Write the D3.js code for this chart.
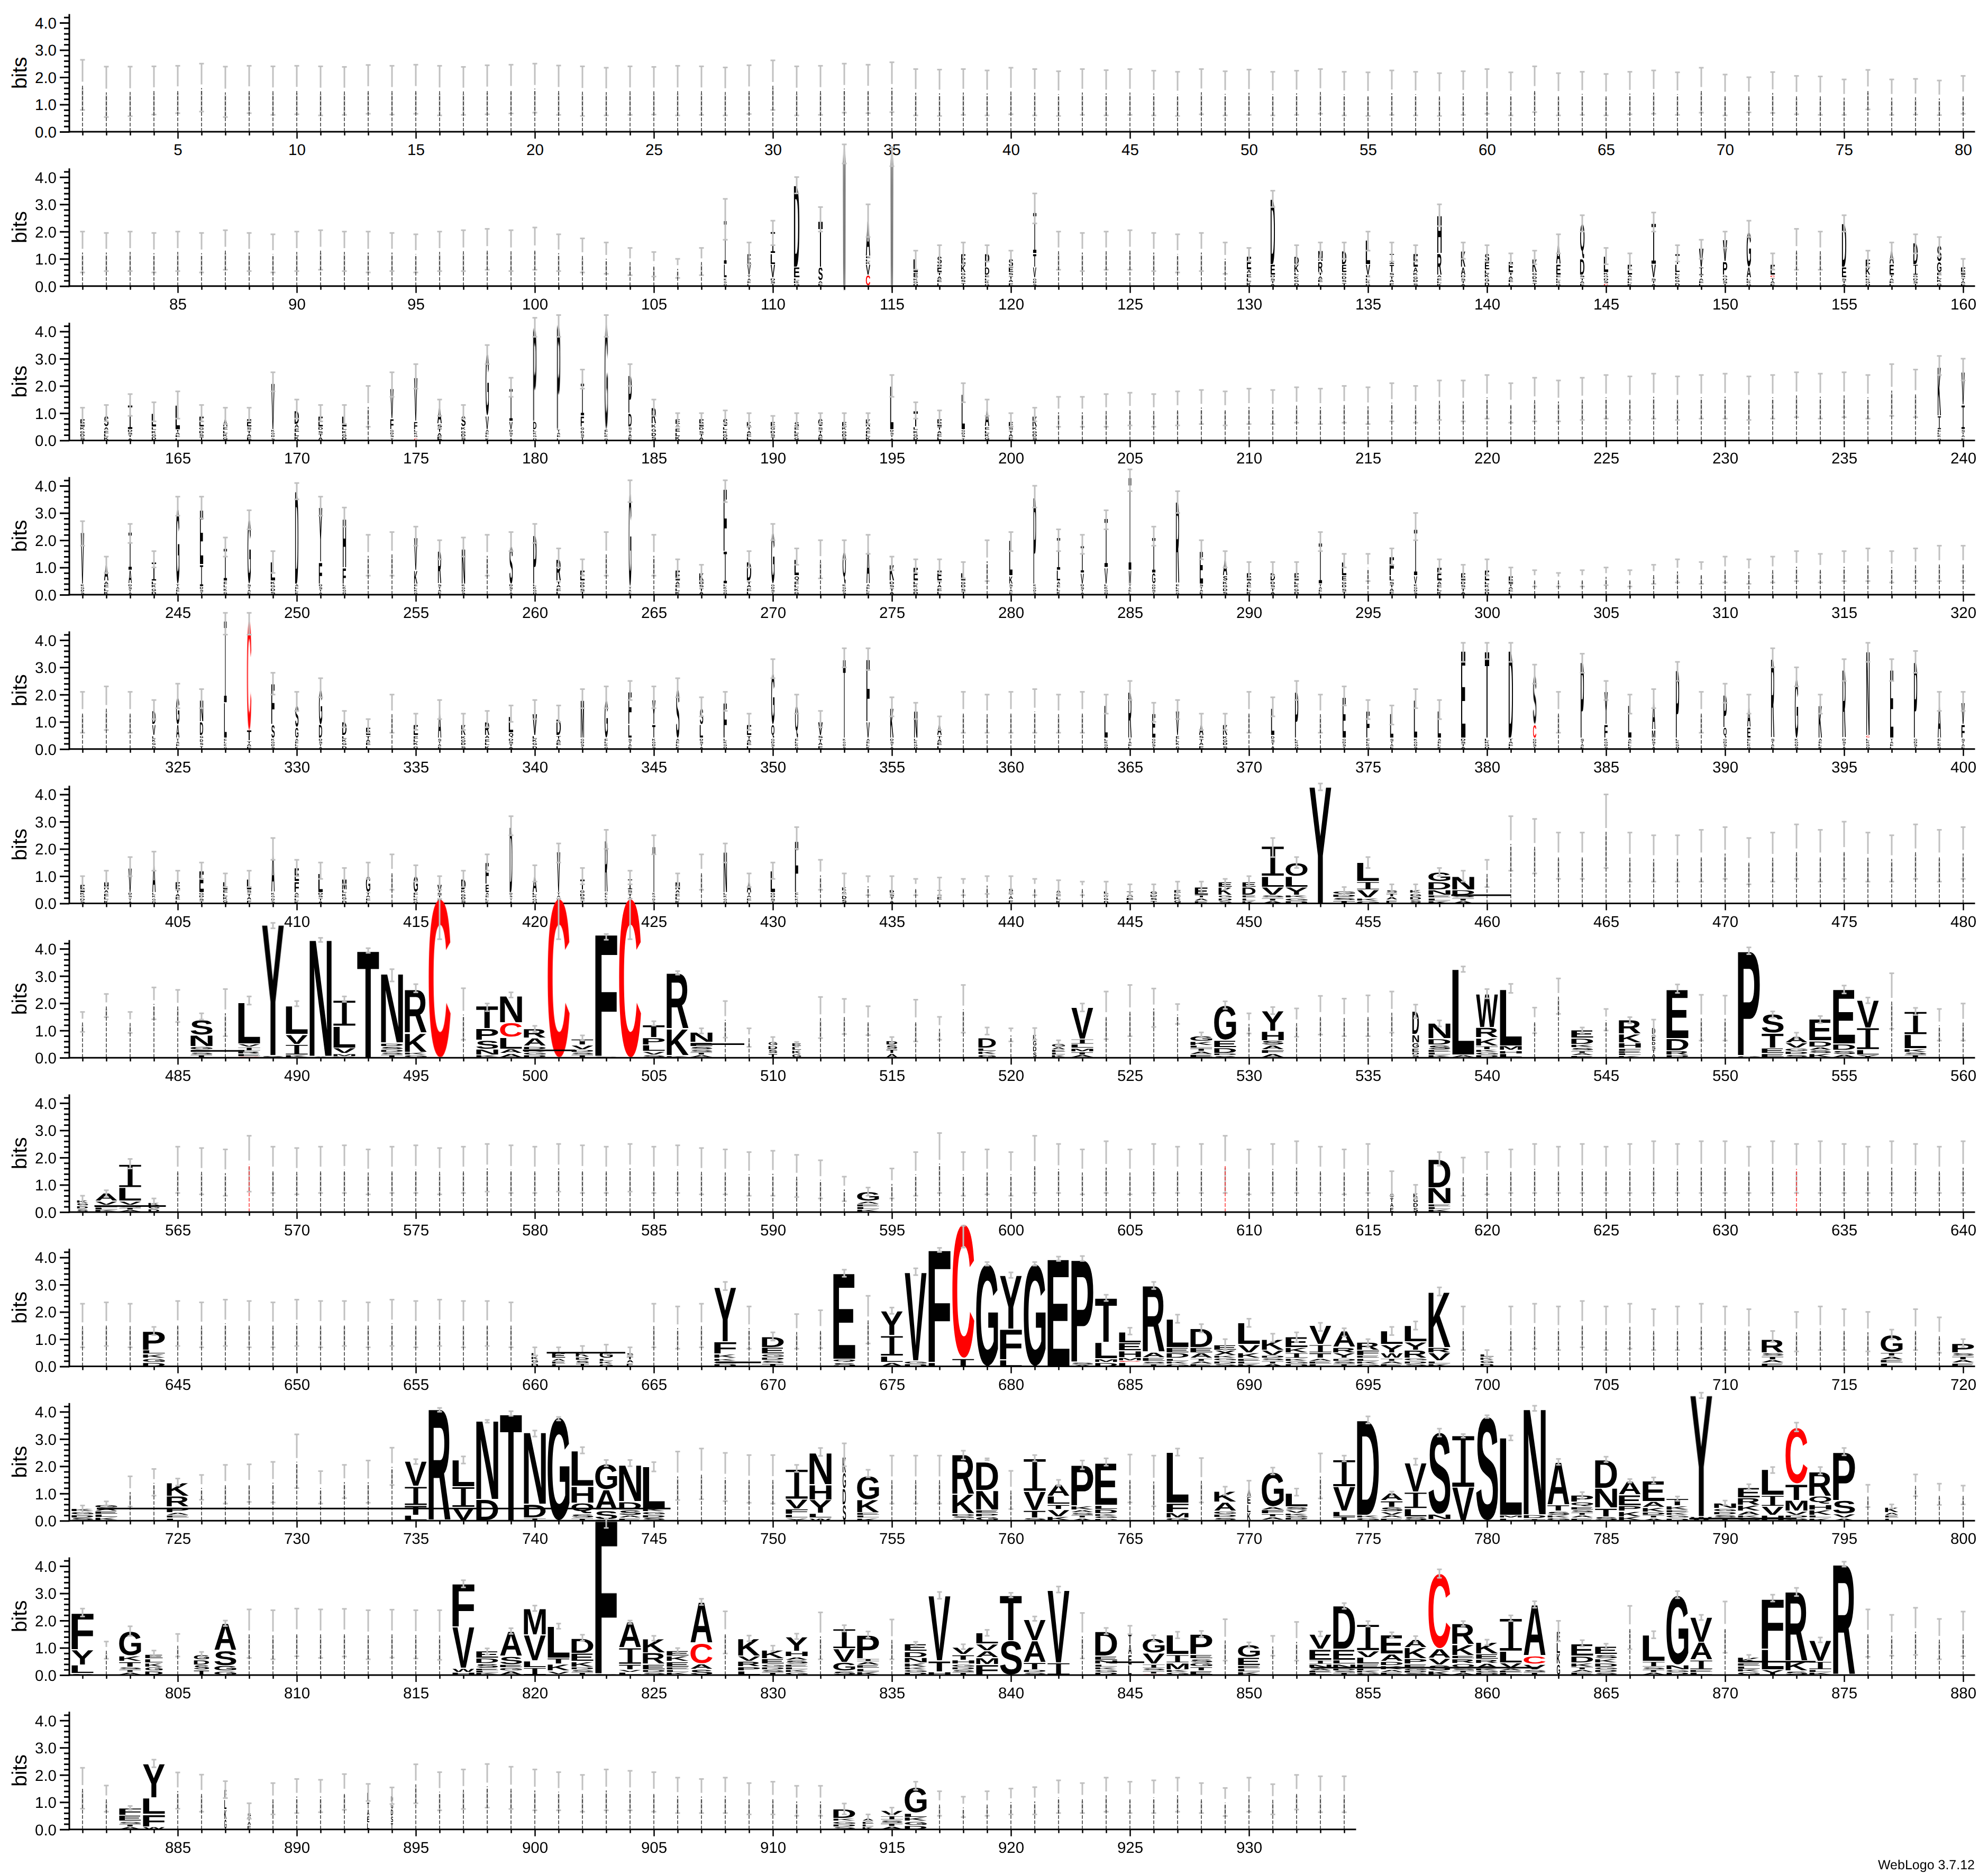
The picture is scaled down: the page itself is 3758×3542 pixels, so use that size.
<!DOCTYPE html>
<html><head><meta charset="utf-8">
<script src="https://cdn.jsdelivr.net/npm/d3@7"></script>
<style>body{margin:0;background:#fff} svg text{text-rendering:geometricPrecision}</style>
</head><body>
<svg id="chart" width="3758" height="3542" xmlns="http://www.w3.org/2000/svg"></svg>
<script>
// Each token: "lo hi [stack] [width]" ; stack letters bottom->top with bits; z = tiny mixed letters; "!C" = thin column dominated by C
const rowStarts = [1,81,161,241,321,401,481,561,641,721,801,881];
const row01 = ["0.8 2.64","0.54 2.39","0.57 2.39","0.63 2.4","0.68 2.42","0.74 2.5","0.54 2.39","0.68 2.42","0.62 2.4","0.64 2.42",
"0.6 2.4","0.62 2.38","0.66 2.45","0.63 2.42","0.66 2.46","0.6 2.42","0.62 2.38","0.64 2.44","0.67 2.46","0.7 2.5",
"0.62 2.43","0.58 2.4","0.6 2.35","0.62 2.4","0.63 2.38","0.6 2.42","0.62 2.4","0.6 2.36","0.65 2.44","0.8 2.62",
"0.6 2.4","0.62 2.42","0.7 2.5","0.68 2.46","0.72 2.55","0.6 2.3","0.58 2.28","0.62 2.3","0.6 2.25","0.64 2.35",
"0.6 2.3","0.58 2.22","0.62 2.3","0.6 2.26","0.62 2.3","0.6 2.24","0.58 2.2","0.64 2.3","0.6 2.22","0.62 2.28",
"0.6 2.2","0.62 2.24","0.66 2.3","0.6 2.2","0.58 2.18","0.62 2.25","0.6 2.2","0.58 2.15","0.62 2.22","0.66 2.3",
"0.6 2.18","0.72 2.4","0.6 2.15","0.62 2.2","0.6 2.12","0.64 2.2","0.66 2.25","0.62 2.18","0.7 2.35","0.6 2.1",
"0.71 2.0","0.69 2.19","0.64 2.05","0.62 2.03","0.62 1.92","0.82 2.27","0.62 1.92","0.63 1.94","0.61 1.88","0.66 2.05"];
const row02 = ["0.5 2.0","0.55 1.95","0.55 2.0","0.5 1.95","0.55 2.0","0.5 1.95","0.6 2.05","0.55 1.95","0.5 1.9","0.55 2.0",
"0.6 2.05","0.55 2.0","0.5 2.0","0.55 1.95","0.5 1.9","0.55 2.0","0.55 2.05","0.6 2.1","0.55 2.05","0.6 2.15",
"0.55 1.9","0.5 1.75","0.45 1.6","0.4 1.4","0.35 1.25","0.3 1.0","0.4 1.4","1.7 3.2 z.3L.5I1.6 .12","0.8 1.6 z.4V.4E.4 .15","1.5 2.4 z.3V.5L.4I.8 .2",
"3.4 4.0 z.3E.4D3.0 .25","2.0 2.9 z.2S.5T1.7 .2","4.5 5.2 W4.85 .12","1.8 3.0 C.4V.4z.3A1.3 .2","4.4 5.1 W4.75 .12","0.6 1.3 z.3E.2L.5 .2","0.7 1.5 z.5E.3S.3 .2","0.8 1.6 z.5K.3E.4 .2","0.9 1.5 z.4D.3P.5 .2","0.7 1.3 z.5E.2S.3 .2",
"2.3 3.4 z.3V.4T.5I1.5 .15","0.6 2.0","0.55 1.95","0.6 2.0","0.6 2.05","0.55 1.95","0.5 1.9","0.55 1.95","0.45 1.6","0.9 1.4 z.6E.5 .2",
"2.9 3.5 z.4E.4D2.4 .2","0.8 1.5 z.5K.3D.3 .2","1.0 1.6 z.5R.4N.4 .2","1.0 1.6 z.5E.3D.5 .2","1.3 2.0 z.4V.4L.9 .2","0.9 1.6 z.5T.3I.4 .2","0.9 1.5 z.5A.2E.5 .2","2.2 3.0 z.4R.8H1.4 .2","1.0 1.6 z.4A.3K.6 .2","0.9 1.5 z.6E.3S.3 .2",
"0.8 1.2 z.5E.4 .2","0.8 1.3 z.5K.5 .2","1.2 1.9 z.4E.4A.7 .2","2.0 2.6 z.4D.6Q1.3 .2","0.8 1.4 C.1z.4L.6 .2","0.6 1.2 z.4E.4 .2","2.0 2.7 z.3V.5I1.5 .2","0.9 1.5 z.5L.3T.4 .2","1.0 1.7 z.4I.3V.7 .2","1.4 2.0 z.4P.5V.8 .2",
"1.8 2.4 z.3A.4G1.3 .2","0.6 1.2 z.3C.1E.4 .2","0.6 2.1","0.6 2.0","2.0 2.6 z.3E.4D1.6 .2","0.7 1.3 z.4K.3F.3 .2","1.0 1.6 z.4E.4A.5 .2","1.2 1.9 z.4I.4D.8 .2","1.1 1.8 z.5G.4S.6 .2","0.5 1.0 z.4E.3 .2"];
const row03 = ["0.6 1.2 z.5E.3 .2","0.7 1.3 z.5S.4 .2","0.9 1.7 z.4I.9 .2","0.7 1.4 z.5L.5 .2","0.8 1.8 z.4L.9 .2","0.7 1.3 z.5E.4 .2","0.6 1.2 z.5A.3 .2","0.7 1.2 z.5E.3 .2","1.8 2.5 z.4V1.7 .15","0.8 1.5 z.6D.5 .2",
"0.7 1.3 z.5E.4 .2","0.6 1.3 z.5L.4 .2","0.5 2.0","1.6 2.5 z.4F.4V1.1 .15","1.9 2.8 C.1z.3F.3V1.6 .15","0.9 1.5 z.6A.6 .2","0.8 1.3 z.5S.4 .2","2.8 3.5 z.4V.5G2.3 .15","1.6 2.3 z.4V.3I1.2 .15","3.8 4.5 z.4D.3P3.4 .15",
"3.8 4.6 z.4P3.8 .15","1.9 2.6 z.5F.4I1.2 .15","3.8 4.6 z.4G3.8 .15","2.0 2.8 z.5D.5P1.4 .15","0.9 1.5 z.6R.6 .2","0.5 1.0 z.6E.2 .2","0.6 1.0 z.5E.3 .2","0.6 1.1 z.5S.3 .2","0.5 1.0 z.5K.2 .2","0.5 0.9 z.5E.2 .2",
"0.5 1.0 z.5S.2 .2","0.6 1.0 z.5G.3 .2","0.5 1.0 z.5E.2 .2","0.6 1.0 z.5K.3 .2","1.6 2.4 z.4L1.6 .15","0.8 1.4 z.5T.6 .2","0.6 1.1 z.5E.3 .2","1.4 2.1 z.4L1.3 .15","0.9 1.5 z.5A.6 .2","0.5 1.0 z.5E.2 .2",
"0.7 1.2 z.5K.4 .2","0.5 1.6","0.5 1.6","0.5 1.7","0.55 1.75","0.5 1.7","0.55 1.8","0.6 1.85","0.55 1.8","0.6 1.9",
"0.6 1.85","0.65 1.95","0.6 1.9","0.65 2.0","0.6 1.95","0.7 2.1","0.65 2.0","0.75 2.2","0.7 2.2","0.8 2.4",
"0.65 2.1","0.7 2.3","0.7 2.2","0.75 2.3","0.8 2.4","0.75 2.35","0.8 2.45","0.75 2.35","0.8 2.4","0.8 2.45",
"0.75 2.35","0.8 2.4","0.85 2.5","0.8 2.45","0.85 2.5","0.8 2.4","0.9 2.8","0.85 2.6","2.4 3.1 z.4I.5K1.8 .15","2.2 3.0 z.4I.9V1.2 .15"];
const row04 = ["1.8 2.7 z.4V1.9 .15","0.8 1.4 z.5A.6 .2","1.9 2.6 z.4A.5I1.4 .15","1.0 1.6 z.5I.7 .2","2.9 3.6 z.4G2.8 .15","2.8 3.6 z.3I.8E2.0 .15","1.4 2.1 z.5I1.2 .15","2.4 3.1 z.4G2.4 .15","0.8 1.6 z.5L.7 .2","3.5 4.1 z.4D3.4 .15",
"2.9 3.6 z.4F.8Y2.0 .15","2.5 3.2 z.4F.6H1.8 .15","0.7 2.2","0.7 2.3","1.8 2.5 z.4K.5V1.2 .15","1.3 2.0 z.4R1.2 .15","1.4 2.1 z.4N1.3 .15","0.7 2.2","1.6 2.3 z.4S1.4 .15","1.9 2.6 z.4P1.8 .15",
"1.0 1.7 z.5R.8 .2","0.7 1.3 z.5E.4 .2","0.7 2.3","3.4 4.2 z.3G3.5 .12","0.7 2.2","0.6 1.3 z.5E.4 .2","0.5 1.1 z.5K.3 .2","3.4 4.2 z.4I1.2F2.3 .15","1.0 1.6 z.5D.7 .2","2.0 2.6 z.4G1.9 .15",
"1.1 1.7 z.5Q.2L.6 .2","0.6 2.0","1.3 2.0 z.4Q1.2 .15","1.5 2.2 z.4A1.4 .15","0.9 1.4 z.5K.6 .2","0.8 1.3 z.5E.5 .2","0.8 1.3 z.5E.4 .2","0.6 1.2 z.5L.3 .2","0.5 2.0","1.6 2.3 z.4K.3L1.3 .15",
"3.2 4.0 z.4P3.2 .12","1.6 2.4 z.5L.4I1.2 .15","1.5 2.2 z.4V.4I1.0 .15","2.4 3.1 z.4V.6I1.8 .15","3.8 4.6 z.4W.5I3.4 .12","1.8 2.5 z.4G.4I1.3 .15","3.0 3.8 z.4R3.0 .15","1.3 2.0 z.4E1.2 .15","1.0 1.6 z.5S.2A.6 .2","0.6 1.2 z.5E.3 .2",
"0.7 1.2 z.5D.3 .2","0.6 1.2 z.5E.3 .2","1.6 2.3 z.4I1.5 .15","1.0 1.5 z.5E.2L.5 .2","0.5 1.5","1.1 1.7 z.5L.2F.7 .2","2.0 3.0 z.4V.3I1.7 .15","0.8 1.3 z.5E.5 .2","0.6 1.1 z.5E.3 .2","0.7 1.3 z.5E.4 .2",
"0.5 1.0 z.4E.3 .2","0.3 0.9","0.3 0.8","0.3 0.9","0.35 1.0","0.3 0.9","0.4 1.1","0.45 1.3","0.4 1.2","0.45 1.4",
"0.4 1.3","0.45 1.4","0.5 1.6","0.45 1.5","0.5 1.6","0.5 1.7","0.45 1.6","0.5 1.7","0.5 1.8","0.5 1.8"];
const row05 = ["0.6 2.1","0.7 2.3","0.6 2.1","1.1 1.8 z.5V.4D.5 .15","1.5 2.4 z.4A.5G1.0 .15","1.5 2.2 z.5D.5N.8 .15","4.2 5.0 z.4L1.3I3.0 .12","4.2 5.0 z.3T.4C4.0 .2","2.0 2.8 z.4S.5F1.5 .15","1.4 2.1 z.4G.4S.8 .15",
"1.9 2.6 z.4D.5G1.3 .15","0.8 1.4 z.5D.5 .2","0.6 1.1 z.5E.3 .2","0.6 2.0","0.7 1.3 z.5E.4 .2","1.1 1.8 z.4A1.0 .15","0.7 1.3 z.5K.4 .2","0.8 1.4 z.5R.5 .2","1.0 1.6 z.4Q.2L.6 .2","1.1 1.8 z.5V.8 .2",
"1.0 1.6 z.5D.6 .2","1.5 2.2 z.4M1.4 .15","1.5 2.3 z.4G1.4 .15","1.8 2.5 z.4L.5F1.2 .15","1.5 2.3 z.4T.5Y.9 .15","1.9 2.6 z.4S1.8 .15","1.2 1.9 z.4L.5S.6 .15","1.4 2.1 z.4F1.3 .15","0.7 1.3 z.5E.4 .2","2.6 3.3 z.4Q.5G1.9 .15",
"1.3 2.0 z.4Q1.2 .15","0.8 1.4 z.5V.5 .2","3.0 3.7 z.4T2.9 .12","2.9 3.7 z.4V.6F2.3 .15","1.2 1.9 z.4K1.1 .15","1.1 1.7 z.4N1.0 .15","0.7 1.2 z.5A.4 .2","0.6 2.1","0.6 2.0","0.6 2.1",
"0.6 2.2","0.6 2.0","0.6 2.1","1.3 2.0 z.4L1.2 .15","1.8 2.5 z.4R1.7 .15","1.0 1.7 z.4E.9 .15","1.1 1.8 z.5V.9 .15","0.7 1.3 z.5A.4 .2","0.7 1.3 z.5K.4 .2","0.6 2.1",
"1.2 1.9 z.5L1.0 .15","1.8 2.5 z.4P1.7 .15","0.6 2.0","1.6 2.3 z.4E1.5 .15","1.1 1.8 z.4F1.0 .15","0.9 1.6 z.4L.9 .15","1.5 2.2 z.4L1.4 .15","1.1 1.8 z.4L1.0 .15","3.2 3.9 z.4E3.2 .2","3.3 3.9 z.4T3.2 .2",
"3.2 3.9 z.4D3.2 .2","2.4 3.1 z.4C.5S1.8 .15","0.6 2.1","2.8 3.5 z.4P2.8 .15","1.8 2.5 z.4F.5Y1.2 .15","1.3 2.0 z.4L1.2 .15","1.5 2.2 z.4M.3A1.1 .15","2.5 3.2 z.4P2.5 .15","0.6 2.1","1.7 2.4 z.4Q.4P1.2 .15",
"1.3 2.0 z.4E.4A.8 .15","3.0 3.7 z.4R2.9 .15","2.3 3.0 z.4G2.2 .15","1.3 2.0 z.4K1.2 .15","2.5 3.3 z.4R2.5 .15","3.2 3.9 z.4C.1N3.1 .15","2.5 3.3 z.4E2.5 .15","2.8 3.6 z.4P2.8 .15","1.4 2.1 z.4A1.3 .15","1.4 2.1 z.4F.5V.8 .15"];
const row06 = ["0.5 1.0 z.4E.3 .2","0.6 1.2 z.5H.3 .2","1.0 1.7 z.4V.9 .15","1.2 1.9 z.4A1.1 .15","0.5 1.2 z.5E.3 .2","0.9 1.5 z.4E.8 .2","0.6 1.1 z.5L.3 .2","0.6 1.2 z.5L.4 .2","1.6 2.4 z.4A1.5 .15","1.0 1.6 z.4F.4E.5 .2",
"0.9 1.5 z.4L.7 .2","0.7 1.3 z.5M.4 .2","0.9 1.5 z.4G.6 .2","0.5 1.8","0.8 1.4 z.4G.6 .2","0.5 1.0 z.4V.3 .2","0.6 1.2 z.5D.4 .2","1.2 1.8 z.4E.3F.8 .15","2.5 3.2 z.4D2.4 .12","0.8 1.4 z.4A.6 .2",
"1.5 2.2 z.4V1.5 .15","0.7 1.3 z.5T.4 .2","2.0 2.7 z.4R1.9 .12","0.7 1.2 z.5I.4 .2","1.8 2.5 z.4T1.7 .12","0.6 1.1 z.5N.3 .2","0.5 1.8","1.5 2.2 z.4N1.5 .15","0.6 1.1 z.4A.4 .2","0.9 1.5 z.4L.8 .2",
"2.0 2.8 z.4F1.9 .15","0.5 1.6","0.35 1.1 z.6 .2","0.3 1.0","0.35 1.0 z.5 .2","0.3 0.9","0.3 0.95 z.5 .2","0.3 0.9","0.35 1.0","0.35 1.0 z.55 .2",
"0.3 0.9","0.3 0.85 z.5 .2","0.3 0.8","0.3 0.8 z.45 .2","0.3 0.7 z.45 .3","0.3 0.7 z.45 .3","0.3 0.8 z.5 .3","0.4 0.8 z.3E.3 .6","0.5 0.9 z.3K.3E.2 .6","0.6 1.0 z.3D.3E.2 .6",
"1.7 2.4 z.3V.3L.4I1.1","1.3 1.7 z.3Y.3L.4O.5","4.15 4.4 Y4.28","0.3 0.6 z.45","1.3 1.7 z.2V.3I.3L.7","0.4 0.7 z.5 .5","0.4 0.7 z.5 .5","1.0 1.3 z.3N.2D.3G.35","0.8 1.2 z.3D.2N.5","0.6 1.6",
"1.2 3.2","1.1 3.1","0.9 2.6","0.9 2.6","1.3 4.0","0.8 2.6","0.8 2.5","0.8 2.5","0.8 2.7","0.9 2.8",
"0.7 2.4","0.8 2.6","0.9 2.9","0.8 2.7","0.9 3.0","0.8 2.6","0.8 2.5","0.9 2.9","0.8 2.7","0.9 2.8"];
const row07 = ["0.95 1.68","1.49 2.34","0.91 1.68","1.41 2.58","1.31 2.49","1.4 1.63 z.3G.12N.42S.56","0.79 2.52","1.95 2.25 C.05z.1R.1I.14V.12L1.52","4.75 4.95 z.08Y4.8","1.89 2.08 z.1I.39V.36L1.05",
"4.25 4.4 z.05N4.3","2.05 2.25 z.05M.1V.21L.8I.95","3.85 4.02 T3.94","2.8 3.25 z.3S.12D.12N2.55","2.4 2.7 z.2K.7R1.6","4.35 5.83 C5.83","0.66 2.55","1.71 1.99 z.1N.22S.33P.43T.84","2.21 2.4 z.15A.17L.43C.54N.99","0.95 1.17 z.3D.12A.3R.35",
"4.35 5.84 C5.84","0.63 0.82 z.3V.17T.22","4.33 4.54 z.05F4.5","4.35 5.84 C5.84","1.18 1.34 z.1V.13L.24P.27T.47","3.05 3.18 z.08K.98R2.05","0.89 1.08 z.3S.12E.15N.38","0.74 2.08","0.4 1.08","0.4 0.76 z.6 .4",
"0.4 0.58 z.55 .4","0.72 2.23","0.87 2.16","0.83 1.89","0.56 0.76 z.63 .5","0.6 2.13","0.66 1.5","0.92 2.67","0.85 1.11 z.35D.38 .8","0.6 1.08",
"0.66 1.09 z.85 .15","0.42 0.64 z.4G.13 .6","1.7 1.99 z.22M.13L.15I.19V1.17","0.68 2.43","0.79 2.67","1.13 2.54","1.24 1.97","0.74 0.93 z.35L.1K.15G.2","1.79 2.07 z.16D.21E.27G1.28","0.89 1.63",
"1.6 1.86 z.15F.14A.17S.17H.35Y.75","0.77 1.81","0.85 2.27","0.79 2.17","0.79 2.29","0.92 2.43","1.45 1.95 z.2E.15G.2N.3D.85 .3","1.15 1.37 z.3S.17D.23N.57","3.15 3.35 z.1L3.15","2.18 2.52 z.3T.14K.29R.38W1.23",
"2.38 2.71 z.15H.12M.17L2.08","0.9 1.84","1.61 2.91","0.9 1.11 z.25S.12K.12D.23E.3","1.0 1.79","1.26 1.49 z.25F.1H.2K.33R.52","0.79 1.4 z.6E.25D.25 .15","2.38 2.69 z.1R.16D.45E1.8","0.63 2.31","0.63 2.28",
"3.8 4.05 z.08P3.85","1.47 1.7 z.15E.2T.55S.7","0.72 0.92 z.35V.2A.24","1.27 1.53 z.15S.13A.12D.22E.8","2.36 2.65 z.12S.15D.23E2.0","2.0 2.21 Y.1L.2I.8V1.02","1.06 3.1","1.57 1.83 z.2K.13L.52I.85","0.63 1.79","0.63 1.99"];
const row08 = ["0.3 0.6 z.45 .5","0.55 0.8 z.25V.15A.3","1.6 1.95 z.25V.15L.5I.85","0.2 0.5 z.35 .5","0.7 2.4","0.65 2.35","0.6 2.3","0.75 2.8 !C","0.7 2.4","0.65 2.35",
"0.7 2.4","0.7 2.45","0.65 2.3","0.7 2.4","0.7 2.45","0.65 2.35","0.7 2.4","0.75 2.5","0.7 2.45","0.7 2.4",
"0.75 2.5","0.7 2.45","0.7 2.4","0.75 2.5","0.7 2.4","0.7 2.45","0.65 2.35","0.65 2.3","0.6 2.2","0.6 2.25",
"0.55 2.1","0.5 1.9","0.4 1.3","0.6 0.9 z.4G.35","0.5 1.6","0.6 2.2","0.7 2.9","0.6 2.2","0.65 2.3","0.6 2.2",
"0.7 2.8","0.7 2.5","0.65 2.3","0.7 2.6","0.65 2.3","0.7 2.5","0.7 2.4","0.7 2.5","0.7 2.8 !C","0.65 2.3",
"0.7 2.5","0.7 2.6","0.7 2.4","0.65 2.3","0.7 2.5","0.6 1.5 z.7 .15","0.5 1.0 z.7 .2","1.7 2.2 z.3N.6D1.05","0.6 2.0","0.65 2.2",
"0.7 2.3","0.7 2.5","0.7 2.4","0.7 2.5","0.7 2.4","0.7 2.5","0.7 2.6","0.7 2.5","0.7 2.6","0.7 2.6",
"0.7 2.4","0.7 2.6","0.7 2.5 !C","0.7 2.6","0.7 2.5","0.7 2.4","0.7 2.6","0.7 2.5","0.7 2.4","0.7 2.6"];
const row09 = ["0.7 2.3","0.75 2.35","0.7 2.3","1.15 1.45 z.6P.7","0.75 2.4","0.7 2.35","0.75 2.45","0.7 2.4","0.7 2.35","0.75 2.45",
"0.7 2.4","0.75 2.4","0.7 2.35","0.75 2.45","0.7 2.4","0.75 2.45","0.7 2.4","0.75 2.4","0.7 2.35","0.4 0.7 z.5 .3",
"0.45 0.7 z.3E.2 .6","0.45 0.75 z.35K.2 .6","0.45 0.8 z.3G.25 .6","0.4 0.7 z.5 .3","0.7 2.3","0.65 2.2","0.7 2.3","2.8 3.1 z.3K.15F.45Y2.0","0.65 2.2","0.95 1.25 z.45E.25D.4",
"0.65 1.92","0.67 2.06","3.29 3.55 z.15Q.12E3.15","0.84 2.59","1.93 2.16 z.15L.23I.75Y.9","3.35 3.6 z.2V3.25","4.2 4.35 z.15F4.14","4.36 5.16 T.3C4.93","3.7 3.83 G3.77","3.25 3.45 L.25F1.13Y1.97",
"3.7 3.83 G3.77","3.87 4.03 E3.93","3.87 4.05 z.06S.1P3.77","2.4 2.63 z.15M.13L.6T1.63","1.17 1.42 z.15C.05M.12H.25E.3L.4","2.84 3.1 z.18E.14A.2R2.44","1.6 1.9 z.3D.2E.2L1.05","1.25 1.55 z.3A.2E.2D.7","0.6 1.0 z.4X.2E.2","1.45 1.75 z.3K.2V.3L.8",
"0.9 1.2 z.4V.2K.4","0.9 1.25 z.3I.2K.2E.4","1.3 1.6 z.3T.2I.3V.7","1.1 1.4 z.3Y.2R.2A.6","0.7 1.0 z.4F.2R.3","1.15 1.45 z.3W.2Y.3L.5","1.35 1.65 z.3R.3Y.3L.6","2.6 2.9 z.2V.3R.2K2.05","0.6 2.2","0.3 0.6 z.45 .6",
"0.6 2.2","0.65 2.3","0.6 2.2","0.7 2.4","0.6 2.2","0.65 2.3","0.6 2.1","0.6 2.2","0.65 2.3","0.6 2.2",
"0.6 2.1","0.9 1.3 z.5R.5","0.55 2.0","0.6 2.2","0.6 2.1","0.55 2.0","1.0 1.35 z.5G.65","0.6 2.1","0.5 1.8","0.7 1.0 z.5P.35"];
const row10 = ["0.3 0.56 z.45","0.56 0.71 z.48G.12","0.52 1.63","0.92 1.9","1.29 1.55 z.3P.2R.4K.5","0.77 1.68","0.63 2.05","0.69 2.07","0.67 2.16","1.2 3.17",
"0.63 1.82","0.83 2.05","0.66 2.21","1.31 2.68","2.08 2.26 L.2T.36I.7V.92","4.0 4.14 R4.09","2.1 2.36 V.49I.76L.99","3.6 3.7 D.78N2.9","3.85 4.02 T3.93","3.09 3.31 I.1D.5N2.65",
"3.68 3.81 G3.8","2.47 2.7 z.1S.15Q.4H.62L1.3","2.0 2.23 z.05S.33A.75G.95","2.0 2.23 z.2S.2D.3N1.35","1.81 2.15 z.45L1.54","0.76 2.54","0.79 2.65","0.72 2.49","0.66 2.41","0.63 2.41",
"1.79 2.05 Y.1L.13F.2V.36I1.1","2.38 2.67 W.1L.17Y.5H.56N1.17","2.0 2.84 z2.35 .15","1.6 1.87 z.3K.48G.88","0.63 2.39","0.63 2.39","0.63 2.39","2.25 2.57 z.25K.72R1.46","2.22 2.29 z.15P.13E.12N.72D1.05","0.43 1.83",
"2.18 2.41 z.1T.28V.7I1.2","1.28 1.5 z.15V.27T.18L.3A.44","1.89 2.21 z.3A.1K.15P1.5","2.02 2.29 z.25D.17L.15E1.55","0.67 2.43","0.53 2.39","2.39 2.65 z.1M.2F.35L1.87","0.67 2.3","0.95 1.25 z.35A.33K.4","0.89 1.47 z1.2 .15",
"1.7 1.95 C.03z.22F.15A.12G1.27","0.92 1.18 C.03z.25V.12S.12L.5","0.82 2.47","2.18 2.39 z.15L.2V.9I.99","3.57 3.83 z.2D3.48","0.92 1.07 z.2V.13S.17T.24A.28","2.05 2.28 z.15L.3I.6V1.07","3.09 3.38 C.04N.2S3.01","3.05 3.18 V1.23I1.89","3.77 3.87 S3.83",
"2.95 3.13 z.1M.1L2.85","4.03 4.22 z.08D.14N3.9","2.05 2.27 z.2S.15T.23A1.57","0.82 1.05 z.4E.12Q.17P.26","2.15 2.35 S.15T.32N.73D1.05","1.4 1.53 z.15K.2P.2E.4A.5","1.37 1.59 z.2D.12K.17A.22E.76","0.73 0.89 z.3E.1K.15T.27","4.5 4.7 W.15Y4.45","0.58 0.74 z.45N.2",
"1.14 1.34 z.2A.15K.22R.28E.38","1.75 1.97 H.2V.33I.4L.95","3.28 3.6 z.2V.15M.4T.6C2.07","1.7 1.97 z.2K.2H.2Q.3R.9","2.4 2.67 z.1V.15S.5P1.78","0.5 1.32","0.45 0.6 z.3K.2 .6","0.9 1.7","0.58 1.36","0.6 1.29"];
const row11 = ["2.15 2.44 z.05L.32Y.56F1.35","0.6 1.23","1.44 1.79 z.3T.2K.2G.9","0.7 0.9 z.6E.16 .8","0.68 1.51","0.65 0.85 z.75 .7","1.8 2.0 z.15G.2S.55A.99","0.63 2.41","0.58 2.38","0.69 2.44",
"0.63 2.41","0.68 2.43","0.58 2.38","0.64 2.4","0.61 2.38","0.56 2.38","3.22 3.48 H.1W.15V1.52F1.59","0.75 0.98 z.25S.17D.2E.27","1.51 1.72 z.15G.12E.12S.3A.91","2.35 2.55 I.27L.25V.95M.97",
"1.7 1.89 C.03V.12K.25T.22L1.17","1.26 1.48 z.3K.2E.3D.55","5.4 5.75 z.05F5.65","1.88 2.0 L.1V.1T.2I.6A.95","1.26 1.44 z.2E.2R.42K.52","0.83 0.99 z.3E.2K.2E.2","2.57 2.8 S.22A.2C.75A1.5","0.79 2.34","1.24 1.45 z.15P.15R.2V.2K.64","0.88 1.08 z.4E.2K.32",
"1.32 1.52 z.4S.15A.12H.2Y.53","0.58 2.3","1.6 1.83 z.15G.32V.5I.73","1.37 1.6 z.5I.1P.87","0.58 2.04","1.08 1.22 z.3K.15N.2D.22E.28","2.8 3.05 H.12T.4V2.39","0.95 1.13 z.4H.15T.2V.27","1.44 1.66 F.39M.25A.25V.25L.41","2.85 3.02 S1.27T1.67",
"1.99 2.15 z.2T.27A.8V.78","3.03 3.25 I.45V2.67","0.61 2.28","1.5 1.73 z.4N.15E.15D.9","1.5 1.81 z1.5 .15","1.25 1.46 C.05z.2I.15V.4G.54","1.35 1.59 z.2M.25I.3L.72","1.4 1.62 z.15T.15G.15S.15E.15P.75","0.53 2.05","1.01 1.2 z.35E.3G.46",
"0.71 1.44","0.53 1.95","1.42 1.6 z.25N.15I.15E.4V.55","2.43 2.64 z.25N.15L.15E.4D1.59","1.78 1.98 z.25E.15L.25V.25I.96","1.38 1.57 z.2K.15D.15A.27E.7","1.21 1.43 z.25E.15P.2K.41A.3","3.57 3.88 z.15S.22V.25A.35C2.76","1.8 1.98 z.25Q.18R.17E.12K.4R.77","1.1 1.3 z.25A.18R.15E.2K.43",
"1.98 2.19 z.25V.2L.43I1.2","2.47 2.71 z.2V.2C.3A1.87","1.24 1.99 z1.6 .15","1.05 1.28 z.3K.15D.25E.45","0.95 1.15 z.3D.15K.15S.15E.3","0.95 2.54","1.35 1.61 z.3I.2L.97","2.82 3.08 z.2N.18G2.55","2.02 2.21 z.2I.35A.65V.92","0.82 2.7",
"0.58 0.74 z.45K.21","2.7 2.95 Y.2L.75F1.85","2.9 3.2 z.15K.35R2.55","1.2 1.38 z.2I.3V.77","3.98 4.16 R4.05","0.67 2.41","0.71 2.21","0.74 2.47","0.58 2.06","0.69 2.33"];
const row12 = ["0.76 2.26","0.65 1.61","0.72 0.86 z.3E.22F.27","2.28 2.56 W.1F.45L.6Y1.25","0.76 2.09","0.65 2.01","1.15 1.77 z1.46 .1","0.39 0.96 z.6 .15","0.55 1.7","0.6 1.85",
"0.63 1.82","0.72 2.03","1.04 1.67 z1.0L.36 .1","0.93 1.54 z1.0D.23 .1","0.96 2.39","0.7 2.1","0.75 2.2","0.8 2.4","0.75 2.3","0.7 2.2",
"0.7 2.1","0.65 2.0","0.7 2.2","0.7 2.15","0.65 2.1","0.6 1.9","0.6 1.85","0.6 1.9","0.55 1.7","0.55 1.75",
"0.5 1.6","0.5 1.6","0.55 0.95 z.4D.35","0.3 0.55 z.4 .5","0.55 0.8 z.35I.15V.2","1.45 1.75 z.6G.95","0.5 1.4","0.45 1.2","0.5 1.4","0.55 1.5",
"0.55 1.55","0.6 1.8","0.6 1.7","0.65 1.9","0.6 1.75","0.6 1.8","0.65 1.9","0.6 1.7","0.49 1.52","0.65 1.9",
"0.55 1.66","0.73 2.0","0.63 1.95","0.63 1.95"];
// flattened stray strokes: [fromPos, toPos, bits]
const strayStrokes = [[458.5,461,0.3],[485.6,487.8,0.25],[499.5,501.7,0.27],[506.6,508.8,0.5],[561.5,564.5,0.22],[660.5,663.8,0.5],[667.6,669.5,0.15],[721.6,745.7,0.45],[788.5,793,0.08],[844,845.6,0.47],[852.6,862.2,0.27],[870.6,873.8,0.49]];
const yTickValues = [0,1,2,3,4];
const yTickLabels = ["0.0","1.0","2.0","3.0","4.0"];
const yAxisTitle = "bits";
const footer = "WebLogo 3.7.12";

const rows = [row01,row02,row03,row04,row05,row06,row07,row08,row09,row10,row11,row12];

// ---------- layout ----------
const svg = d3.select("#chart");
const FF = "'Liberation Sans', Arial, Helvetica, sans-serif";
const plotLeft = 133.5, stackW = 45, baseline0 = 249, rowPitch = 291.7, bitPx = 51.5, maxBits = 4.32;
const axisX = 131;
const glyphW = 41.4;
const RED = "#ff0000";
const ctx = document.createElement("canvas").getContext("2d");
ctx.font = "bold 200px " + FF;
const mcache = {};
function metrics(ch){
  if(!mcache[ch]){ const m = ctx.measureText(ch);
    mcache[ch] = {l:m.actualBoundingBoxLeft, r:m.actualBoundingBoxRight, a:m.actualBoundingBoxAscent, d:m.actualBoundingBoxDescent}; }
  return mcache[ch];
}
const fillers = ["E","S","K","A","D","L","T","G"];
function parseStack(s, pos){
  const out = []; const re = /([A-Za-z])(\d*\.?\d+)/g; let m;
  while((m = re.exec(s))){
    const ch = m[1], h = +m[2];
    if(ch === "z"){
      const k = Math.max(1, Math.min(4, Math.round(h/0.1)));
      for(let i=0;i<k;i++) out.push({ch: fillers[(pos + i*3) % fillers.length], h: h/k});
    } else out.push({ch: ch.toUpperCase(), h});
  }
  return out;
}
function drawLetter(g, ch, cx, w, yTop, h, color){
  if(ch === "I"){
    // serif capital I as drawn by WebLogo
    const x0 = cx - w/2, hb = Math.max(h*0.08, 0.5), sw = Math.max(w*0.22, 0.7);
    g.append("path").attr("fill", color)
      .attr("d", `M${x0},${yTop}h${w}v${hb}h${-(w-sw)/2}v${h-2*hb}h${(w-sw)/2}v${hb}h${-w}v${-hb}h${(w-sw)/2}v${-(h-2*hb)}h${-(w-sw)/2}Z`);
    return;
  }
  const m = metrics(ch);
  const sx = w/(m.l + m.r), sy = h/(m.a + m.d);
  g.append("text").attr("font-family", FF).attr("font-weight","bold").attr("font-size",200)
   .attr("fill", color)
   .attr("transform", `translate(${(cx - w/2 + m.l*sx).toFixed(2)},${(yTop + m.a*sy).toFixed(2)}) scale(${sx.toFixed(5)},${sy.toFixed(5)})`)
   .text(ch);
}

const rowScales = [];
rows.forEach((tokens, r) => {
  const start = rowStarts[r], n = tokens.length;
  const base = baseline0 + r*rowPitch;
  const x = d3.scaleLinear().domain([start-0.5, start-0.5+n]).range([plotLeft, plotLeft + n*stackW]);
  const y = d3.scaleLinear().domain([0, maxBits]).range([base, base - maxBits*bitPx]);
  rowScales.push({start, n, x, y});
  const g = svg.append("g").attr("class","row");
  const gL = g.append("g").style("opacity",0.999), gE = g.append("g"), gT = g.append("g");
  tokens.forEach((t, i) => {
    const pos = start + i;
    const p = t.trim().split(/\s+/);
    const lo = +p[0], hi = +p[1];
    const cx = x(pos);
    const thin = p.length < 3 || p[2][0] === "!";
    let top;
    if(!thin){
      const w = p.length >= 4 ? +p[3] : 1;
      const items = parseStack(p[2], pos);
      let acc = 0;
      items.forEach(it => {
        const yb = y(acc), yt = y(acc + it.h);
        const hp = yb - yt;
        const ink = Math.max(hp - Math.min(2, hp*0.3), 0.3);
        drawLetter(gL, it.ch, cx, glyphW*w, yt + (hp-ink)/2, ink, it.ch === "C" ? RED : "#000000");
        acc += it.h;
      });
      top = acc;
    } else {
      top = (lo + hi)/2;
    }
    // error bar
    gE.append("line").attr("x1",cx).attr("x2",cx).attr("y1",y(lo)).attr("y2",y(hi)).attr("stroke","#c0c0c0").attr("stroke-width",3);
    [lo,hi].forEach(v => gE.append("line").attr("x1",cx-4.5).attr("x2",cx+4.5).attr("y1",y(v)).attr("y2",y(v)).attr("stroke","#c0c0c0").attr("stroke-width",3));
    if(thin){
      const col = (p[2] === "!C") ? RED : "#000";
      gT.append("rect").attr("x",cx-3).attr("width",6).attr("y",y(top)-6).attr("height",12).attr("fill","#fff");
      gT.append("line").attr("x1",cx).attr("x2",cx).attr("y1",y(0)).attr("y2",y(top)+1).attr("stroke",col).attr("stroke-width",1.2).attr("stroke-dasharray","7,3");
    }
  });

  // x axis
  const gx = g.append("g").attr("transform",`translate(0,${base})`)
    .call(d3.axisBottom(x).tickValues(d3.range(start, start+n)).tickSizeInner(7).tickSizeOuter(0).tickPadding(0)
      .tickFormat(d => d % 5 === 0 ? String(d) : ""));
  gx.select(".domain").attr("d", `M${axisX-1.5},0H${plotLeft + n*stackW}`).attr("stroke","#000").attr("stroke-width",3);
  gx.selectAll(".tick line").attr("stroke","#000").attr("stroke-width",2.5).attr("y2", d => d % 5 === 0 ? 13 : 7);
  gx.selectAll(".tick text").attr("y",44).attr("dy",null).attr("font-size",29.5).attr("font-family",FF).attr("fill","#000");

  // y axis
  const yTicks = d3.range(0,22).map(i => i/5);
  const gy = g.append("g").attr("transform",`translate(${axisX},0)`)
    .call(d3.axisLeft(y).tickValues(yTicks).tickSizeInner(10).tickSizeOuter(0).tickPadding(0)
      .tickFormat((d,i) => (i % 5 === 0) ? yTickLabels[yTickValues.indexOf(Math.round(d))] : ""));
  gy.select(".domain").attr("d", `M0,${y(0)+1.5}V${y(maxBits)}`).attr("stroke","#000").attr("stroke-width",3);
  gy.selectAll(".tick line").attr("stroke","#000").attr("stroke-width",3).attr("x2",(d,i) => i % 5 === 0 ? -18 : -10);
  gy.selectAll(".tick text").attr("x",-24).attr("dy","0.35em").attr("font-size",29.5).attr("font-family",FF).attr("fill","#000");

  g.append("text").attr("transform",`translate(50,${(y(0)+y(maxBits))/2}) rotate(-90)`)
    .attr("text-anchor","middle").attr("font-family",FF).attr("font-size",39).attr("fill","#000").text(yAxisTitle);
});

// stray flattened strokes
strayStrokes.forEach(([a,b,v]) => {
  const rs = rowScales.find(s => a >= s.start-0.5 && a < s.start-0.5+s.n);
  if(!rs) return;
  svg.append("line").attr("x1",rs.x(a)).attr("x2",rs.x(b)).attr("y1",rs.y(v)).attr("y2",rs.y(v)).attr("stroke","#000").attr("stroke-width",3);
});

svg.append("text").attr("x",3733).attr("y",3533).attr("text-anchor","end").attr("font-family",FF).attr("font-size",25).attr("fill","#000").text(footer);
</script>
</body></html>
